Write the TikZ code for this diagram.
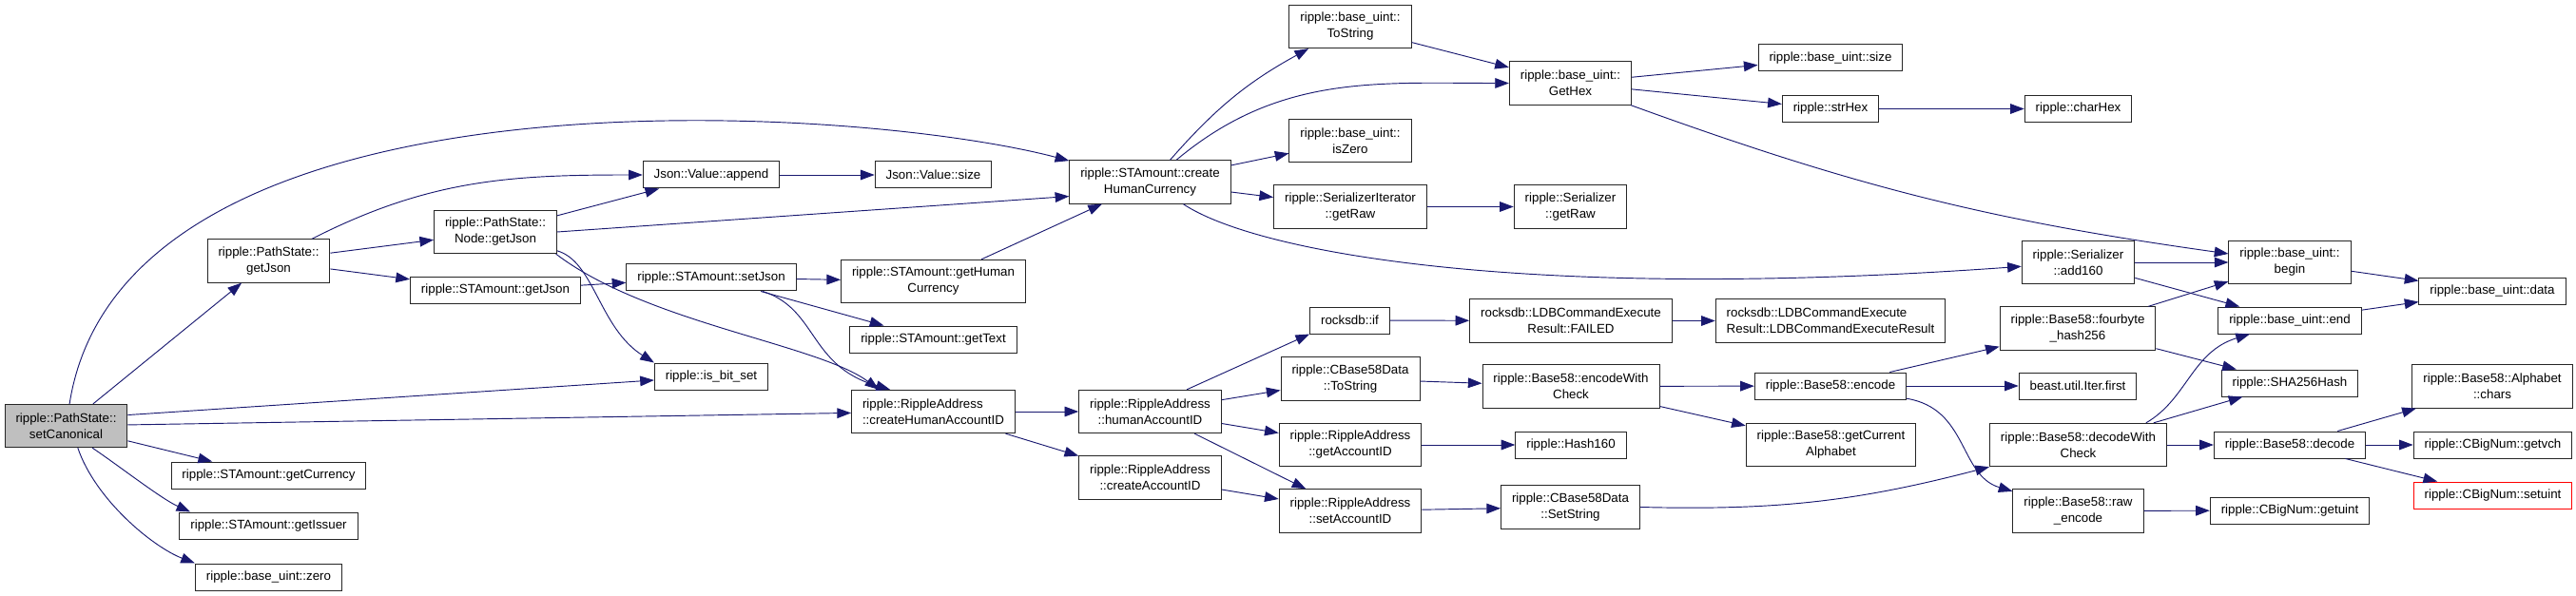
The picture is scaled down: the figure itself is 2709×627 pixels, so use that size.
\documentclass[tikz,border=0pt]{standalone}
\usepackage{fontspec}
\setmainfont{Liberation Sans}
\usepackage{tikz}
\usetikzlibrary{arrows.meta}
\definecolor{edgeblue}{RGB}{25,25,112}

\begin{document}
\begin{tikzpicture}[
  x=0.75pt, y=-0.75pt,
  font=\fontsize{10}{12.75}\selectfont,
  fn/.style  ={draw=black!85, line width=0.75pt, fill=white, inner xsep=8.6pt,
               inner ysep=2pt, minimum height=21pt, align=center},
  fn2/.style ={fn, minimum height=34pt},
  cur/.style ={fn2, fill=black!25},
  lost/.style={fn, draw=red},
  fl/.style  ={-{Triangle[length=11pt,width=8pt]}, draw=edgeblue, line width=0.7pt}]
\useasboundingbox (0,0) rectangle (2709,627);

\node[cur] (root) at (69.5,448) {ripple::PathState::\\setCanonical};

\node[fn2] (pjson) at (282.5,274.5) {ripple::PathState::\\getJson};
\node[fn]  (gcur)  at (282.5,500)   {ripple::STAmount::getCurrency};
\node[fn]  (giss)  at (282.5,553)   {ripple::STAmount::getIssuer};
\node[fn]  (zero)  at (282.5,607)   {ripple::base\_uint::zero};

\node[fn2] (ngj) at (521,244)   {ripple::PathState::\\Node::getJson};
\node[fn]  (sgj) at (521,305.5) {ripple::STAmount::getJson};

\node[fn] (app) at (748,184) {Json::Value::append};
\node[fn] (sjs) at (748,292) {ripple::STAmount::setJson};
\node[fn] (ibs) at (748,396) {ripple::is\_bit\_set};

\node[fn]  (vsz)   at (981.5,184) {Json::Value::size};
\node[fn2] (ghc)   at (981.5,296) {ripple::STAmount::getHuman\\Currency};
\node[fn]  (gtx)   at (981.5,357) {ripple::STAmount::getText};
\node[fn2, align=left] (chaid) at (981.5,433)
  {ripple::RippleAddress\\::createHumanAccountID};

\node[fn2] (chc) at (1209.5,191.5) {ripple::STAmount::create\\HumanCurrency};
\node[fn2] (hac) at (1209.5,433)   {ripple::RippleAddress\\::humanAccountID};
\node[fn2] (cai) at (1209.5,502.5) {ripple::RippleAddress\\::createAccountID};

\node[fn2] (bts) at (1420,28)    {ripple::base\_uint::\\ToString};
\node[fn2] (isz) at (1420,148)   {ripple::base\_uint::\\isZero};
\node[fn2] (sig) at (1420,217.5) {ripple::SerializerIterator\\::getRaw};
\node[fn]  (rif) at (1419.5,337) {rocksdb::if};
\node[fn2] (cts) at (1420,398.5) {ripple::CBase58Data\\::ToString};
\node[fn2] (gai) at (1420,468)   {ripple::RippleAddress\\::getAccountID};
\node[fn2] (sai) at (1420,537.5) {ripple::RippleAddress\\::setAccountID};

\node[fn2] (ghx)  at (1651.5,87.5)  {ripple::base\_uint::\\GetHex};
\node[fn2] (sgr)  at (1651.5,217.5) {ripple::Serializer\\::getRaw};
\node[fn2] (fail) at (1652,337.5)   {rocksdb::LDBCommandExecute\\Result::FAILED};
\node[fn2] (ewc)  at (1652,406.5)   {ripple::Base58::encodeWith\\Check};
\node[fn]  (h160) at (1652,468)     {ripple::Hash160};
\node[fn2] (sst)  at (1651.5,533.5) {ripple::CBase58Data\\::SetString};

\node[fn]  (bsz) at (1925,61)    {ripple::base\_uint::size};
\node[fn]  (shx) at (1925,114.5) {ripple::strHex};
\node[fn2, align=left] (ldb) at (1925,337.5)
  {rocksdb::LDBCommandExecute\\Result::LDBCommandExecuteResult};
\node[fn]  (enc) at (1925,406)   {ripple::Base58::encode};
\node[fn2] (gca) at (1925.5,468) {ripple::Base58::getCurrent\\Alphabet};

\node[fn]  (chx)  at (2185.5,114.5) {ripple::charHex};
\node[fn2] (a160) at (2185.5,276)   {ripple::Serializer\\::add160};
\node[fn2] (fbh)  at (2185,345.5)   {ripple::Base58::fourbyte\\\_hash256};
\node[fn]  (ifr)  at (2185,406)     {beast.util.Iter.first};
\node[fn2] (dwc)  at (2185.5,468)   {ripple::Base58::decodeWith\\Check};
\node[fn2] (rawe) at (2185.5,537.5) {ripple::Base58::raw\\\_encode};

\node[fn2] (beg)  at (2408,276) {ripple::base\_uint::\\begin};
\node[fn]  (uend) at (2408,337) {ripple::base\_uint::end};
\node[fn]  (sha)  at (2408,403) {ripple::SHA256Hash};
\node[fn]  (dec)  at (2408,468) {ripple::Base58::decode};
\node[fn]  (gui)  at (2408,537) {ripple::CBigNum::getuint};

\node[fn]   (dat) at (2621,306.5)   {ripple::base\_uint::data};
\node[fn2]  (chr) at (2621,406.5)   {ripple::Base58::Alphabet\\::chars};
\node[fn]   (gvc) at (2621.5,468)   {ripple::CBigNum::getvch};
\node[lost] (sui) at (2621.5,521)   {ripple::CBigNum::setuint};

\foreach \a/\b in {root/pjson,root/chaid,root/gcur,pjson/ngj,pjson/sgj,
    ngj/app,app/vsz,sgj/sjs,sjs/ghc,sjs/gtx,ghc/chc,chaid/hac,chaid/cai,
    chc/isz,chc/sig,bts/ghx,ghx/bsz,ghx/shx,shx/chx,sig/sgr,
    hac/cts,hac/gai,hac/sai,cai/sai,rif/fail,fail/ldb,cts/ewc,ewc/enc,
    ewc/gca,gai/h160,sai/sst,enc/fbh,enc/ifr,a160/beg,a160/uend,
    fbh/beg,fbh/sha,dwc/sha,dwc/dec,rawe/gui,beg/dat,uend/dat,
    dec/chr,dec/gvc,dec/sui}
  \draw[fl] (\a) -- (\b);

\draw[fl] (root.10) -- (ibs);
\draw[fl] (root) .. controls (130,60) and (900,110) .. (chc);
\draw[fl] (root.-40) .. controls (125,490) and (170,525) .. (giss.170);
\draw[fl] (root.-62) .. controls (100,525) and (160,575) .. (zero.north west);
\draw[fl] (pjson) to[out=27, in=180] (app);
\draw[fl] (ngj.east) -- (chc.190);
\draw[fl] (ngj.-17) .. controls (625,275) and (630,345) .. (ibs.north west);
\draw[fl] (ngj.-20) .. controls (680,340) and (860,362) .. (chaid.158);
\draw[fl] (sjs.-15) .. controls (860,325) and (850,385) .. (chaid.153);
\draw[fl] (chc) to[bend left=10] (bts);
\draw[fl] (chc) to[out=40, in=180] (ghx);
\draw[fl] (chc) .. controls (1320,265) and (1600,318) .. (a160);
\draw[fl] (ghx) to[bend right=6] (beg);
\draw[fl] (hac.31) -- (rif.south west);
\draw[fl] (sst.east) to[bend right=8] (dwc.south west);
\draw[fl] (enc) .. controls (2070,430) and (2060,500) .. (rawe);
\draw[fl] (dwc.18) .. controls (2300,420) and (2305,370) .. (uend.199);
\end{tikzpicture}
\end{document}
